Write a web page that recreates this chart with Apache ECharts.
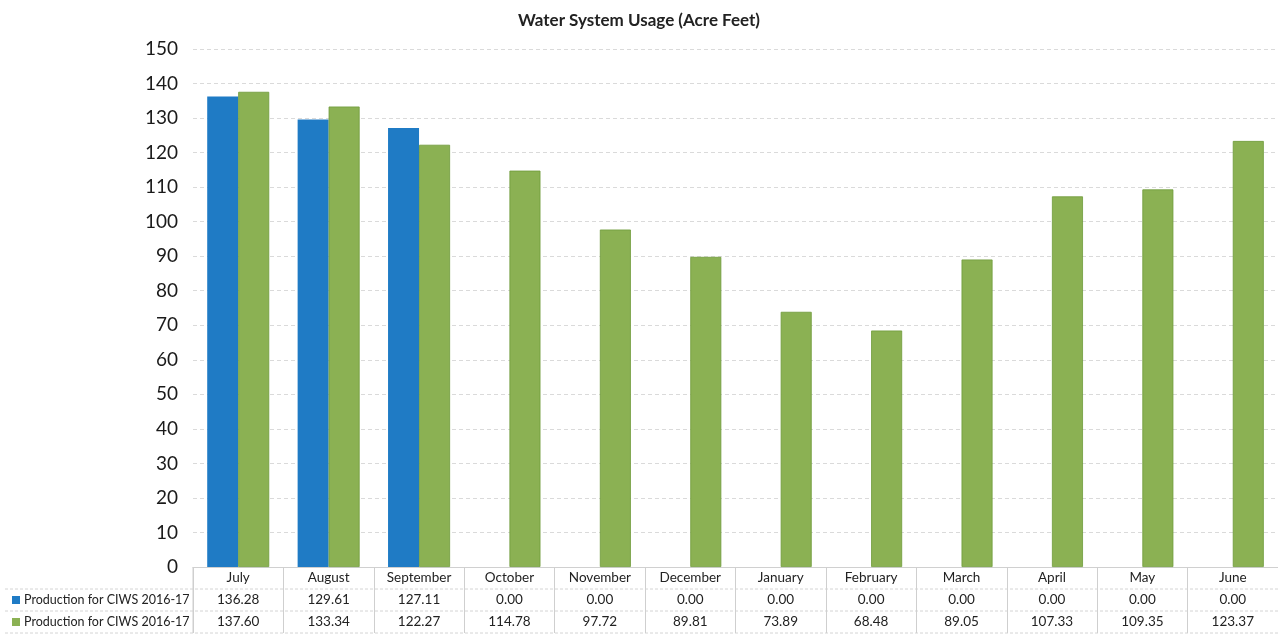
<!DOCTYPE html>
<html>
<head>
<meta charset="utf-8">
<script src="https://cdn.jsdelivr.net/npm/echarts@6/dist/echarts.min.js"></script>
<style>
  html, body { margin: 0; padding: 0; background: #fff; }
  #chart { width: 1278px; height: 635px; }
</style>
</head>
<body>
<div id="chart"></div>
<script>
// Monthly production, fiscal year July–June
const months = ['July', 'August', 'September', 'October', 'November', 'December',
  'January', 'February', 'March', 'April', 'May', 'June'];
const seriesName = 'Production for CIWS 2016-17';
const productionBlue = [136.28, 129.61, 127.11, 0, 0, 0, 0, 0, 0, 0, 0, 0];
const productionGreen = [137.60, 133.34, 122.27, 114.78, 97.72, 89.81, 73.89, 68.48, 89.05, 107.33, 109.35, 123.37];
const yTicks = { min: 0, max: 150, interval: 10 };

const BLUE = '#1f7bc5';
const GREEN = '#8bb153';
const FONT = 'Lato, "Open Sans", "Liberation Sans", sans-serif';

const GRID_LEFT = 193, GRID_TOP = 49, GRID_BOTTOM = 68;
const ROW_H = 22;

const chart = echarts.init(document.getElementById('chart'), null, { renderer: 'canvas' });

// dashed separators under each row of the data table
const rowLines = [];
[589, 611, 633].forEach(y => {
  rowLines.push({
    type: 'line',
    shape: { x1: 5, y1: y, x2: 1278, y2: y },
    style: { stroke: '#d4d4d4', lineWidth: 1, lineDash: [3, 2] }
  });
});

chart.setOption({
  animation: false,
  textStyle: { fontFamily: FONT },
  title: {
    text: 'Water System Usage (Acre Feet)',
    left: 'center',
    top: 7,
    textStyle: { fontSize: 17, fontWeight: 'bold', color: '#222', fontFamily: FONT }
  },
  grid: { left: GRID_LEFT, right: 0, top: GRID_TOP, bottom: GRID_BOTTOM, containLabel: false },
  xAxis: {
    type: 'category',
    data: months,
    axisLine: { show: true, lineStyle: { color: '#d0d0d0', width: 1 } },
    axisTick: { show: true, interval: 0, alignWithLabel: false, length: 66, lineStyle: { color: '#cfcfcf' } },
    axisLabel: {
      interval: 0,
      margin: 0,
      color: '#222',
      fontSize: 13.5,
      lineHeight: ROW_H,
      formatter: (value, idx) =>
        value + '\n' + productionBlue[idx].toFixed(2) + '\n' + productionGreen[idx].toFixed(2)
    }
  },
  yAxis: {
    type: 'value',
    min: yTicks.min,
    max: yTicks.max,
    interval: yTicks.interval,
    axisLine: { show: false },
    axisTick: { show: false },
    axisLabel: { color: '#1a1a1a', fontSize: 19, margin: 15 },
    splitLine: { lineStyle: { color: '#dadada', type: [4, 3] } }
  },
  series: [
    {
      name: seriesName,
      type: 'bar',
      data: productionBlue,
      barWidth: 31,
      barGap: '0%',
      itemStyle: { color: BLUE }
    },
    {
      name: seriesName,
      type: 'bar',
      data: productionGreen,
      barWidth: 31,
      barGap: '0%',
      itemStyle: { color: GREEN, borderColor: '#6f9a3a', borderWidth: 0.8 }
    }
  ],
  graphic: [
    ...rowLines,
    { type: 'line', shape: { x1: 193, y1: 567, x2: 193, y2: 633 }, style: { stroke: '#cfcfcf', lineWidth: 1 } },
    { type: 'rect', shape: { x: 12, y: 596, width: 8, height: 8 }, style: { fill: BLUE } },
    { type: 'text', x: 24, y: 600, style: { text: seriesName, fill: '#222', font: '12.5px ' + FONT, verticalAlign: 'middle' } },
    { type: 'rect', shape: { x: 12, y: 618, width: 8, height: 8 }, style: { fill: GREEN } },
    { type: 'text', x: 24, y: 622, style: { text: seriesName, fill: '#222', font: '12.5px ' + FONT, verticalAlign: 'middle' } }
  ]
});
</script>
</body>
</html>
